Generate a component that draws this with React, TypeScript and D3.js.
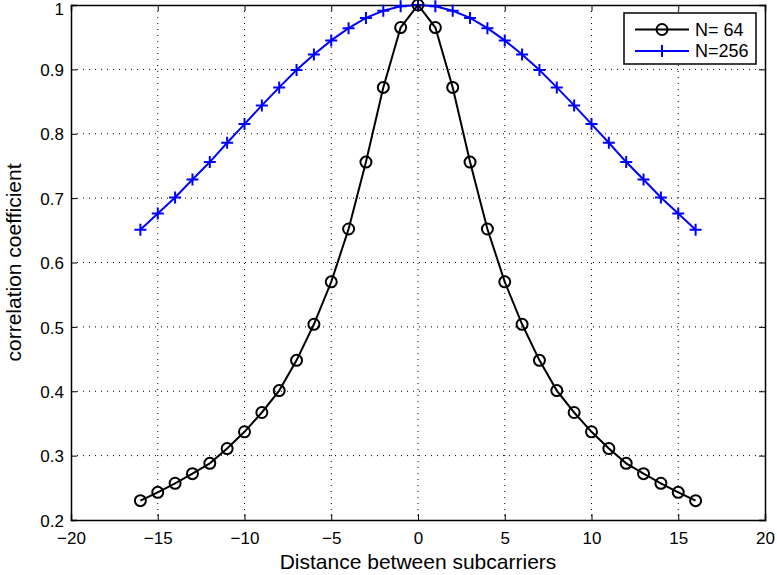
import * as d3 from 'd3';
import React, { useRef, useEffect } from 'react';

// subcarrier distance
const distances = [-16, -15, -14, -13, -12, -11, -10, -9, -8, -7, -6, -5, -4, -3, -2, -1, 0, 1, 2, 3, 4, 5, 6, 7, 8, 9, 10, 11, 12, 13, 14, 15, 16];

// N = 64
const corr64 = [0.23, 0.243, 0.257, 0.272, 0.288, 0.311, 0.337, 0.367, 0.401, 0.448, 0.504, 0.57, 0.652, 0.756, 0.872, 0.965, 1.0,
  0.965, 0.872, 0.756, 0.652, 0.57, 0.504, 0.448, 0.401, 0.367, 0.337, 0.311, 0.288, 0.272, 0.257, 0.243, 0.23];

// N = 256
const corr256 = [0.651, 0.676, 0.701, 0.729, 0.756, 0.786, 0.815, 0.844, 0.872, 0.899, 0.923, 0.945, 0.964, 0.98, 0.991, 0.998, 1.0,
  0.998, 0.991, 0.98, 0.964, 0.945, 0.923, 0.899, 0.872, 0.844, 0.815, 0.786, 0.756, 0.729, 0.701, 0.676, 0.651];

const xTicks = [-20, -15, -10, -5, 0, 5, 10, 15, 20];
const yTicks = [0.2, 0.3, 0.4, 0.5, 0.6, 0.7, 0.8, 0.9, 1];
const legendLabels = ['N= 64', 'N=256'];

function App() {
  const svgRef = useRef(null);

  useEffect(() => {
    const width = 777, height = 575;
    const margin = { top: 5, right: 12, bottom: 55, left: 71 };
    const w = width - margin.left - margin.right;
    const h = height - margin.top - margin.bottom;
    const font = 'Liberation Sans, Arial, sans-serif';

    const svg = d3.select(svgRef.current)
      .attr('width', width)
      .attr('height', height)
      .style('font-family', font);
    svg.selectAll('*').remove();

    const g = svg.append('g').attr('transform', 'translate(' + margin.left + ',' + margin.top + ')');

    const x = d3.scaleLinear().domain([-20, 20]).range([0, w]);
    const y = d3.scaleLinear().domain([0.2, 1]).range([h, 0]);

    // dotted grid
    g.append('g').selectAll('line').data(xTicks.slice(1, -1)).join('line')
      .attr('x1', d => x(d)).attr('x2', d => x(d)).attr('y1', 0).attr('y2', h)
      .attr('stroke', '#000').attr('stroke-width', 1).attr('stroke-dasharray', '1,5');
    g.append('g').selectAll('line').data(yTicks.slice(1, -1)).join('line')
      .attr('x1', 0).attr('x2', w).attr('y1', d => y(d)).attr('y2', d => y(d))
      .attr('stroke', '#000').attr('stroke-width', 1).attr('stroke-dasharray', '1,5');

    // axes, ticks inward
    const fmt = d3.format('');
    const bottom = g.append('g').attr('transform', 'translate(0,' + h + ')')
      .call(d3.axisBottom(x).tickValues(xTicks).tickSize(-6).tickPadding(12).tickFormat(d => fmt(d).replace('-', '\u2212')));
    const left = g.append('g')
      .call(d3.axisLeft(y).tickValues(yTicks).tickSize(-6).tickPadding(7).tickFormat(d => fmt(+d)));
    const top = g.append('g')
      .call(d3.axisTop(x).tickValues(xTicks).tickSize(-6).tickFormat(() => ''));
    const right = g.append('g').attr('transform', 'translate(' + w + ',0)')
      .call(d3.axisRight(y).tickValues(yTicks).tickSize(-6).tickFormat(() => ''));
    [bottom, left, top, right].forEach(a => {
      a.select('.domain').attr('stroke', '#000').attr('stroke-width', 1.5);
      a.selectAll('.tick line').attr('stroke', '#000').attr('stroke-width', 1);
      a.selectAll('text').attr('font-size', 17).attr('font-family', font).attr('fill', '#000');
    });
    left.selectAll('text').attr('dy', d => (d === 1 ? '0.72em' : '0.36em')).attr('y', d => (d === 1 ? -3 : 0));

    // lines
    const pts64 = distances.map((d, i) => [d, corr64[i]]);
    const pts256 = distances.map((d, i) => [d, corr256[i]]);
    const line = d3.line().x(d => x(d[0])).y(d => y(d[1]));

    g.append('path').datum(pts256).attr('fill', 'none').attr('stroke', '#0000ff').attr('stroke-width', 2).attr('d', line);
    g.append('g').selectAll('path').data(pts256).join('path')
      .attr('d', d => {
        const cx = x(d[0]), cy = y(d[1]);
        return 'M' + (cx - 6) + ',' + cy + 'H' + (cx + 6) + 'M' + cx + ',' + (cy - 6) + 'V' + (cy + 6);
      })
      .attr('stroke', '#0000ff').attr('stroke-width', 2);

    g.append('path').datum(pts64).attr('fill', 'none').attr('stroke', '#000').attr('stroke-width', 2).attr('d', line);
    g.append('g').selectAll('circle').data(pts64).join('circle')
      .attr('cx', d => x(d[0])).attr('cy', d => y(d[1])).attr('r', 5.5)
      .attr('fill', 'none').attr('stroke', '#000').attr('stroke-width', 2);

    // axis labels
    svg.append('text').attr('x', margin.left + w / 2).attr('y', 569).attr('text-anchor', 'middle')
      .attr('font-size', 21).text('Distance between subcarriers');
    svg.append('text').attr('transform', 'translate(21,' + (margin.top + h / 2) + ') rotate(-90)')
      .attr('text-anchor', 'middle').attr('font-size', 21).text('correlation coefficient');

    // legend
    const lg = svg.append('g');
    lg.append('rect').attr('x', 624).attr('y', 13).attr('width', 132).attr('height', 51)
      .attr('fill', '#fff').attr('stroke', '#000').attr('stroke-width', 1.5);
    const colors = ['#000', '#0000ff'];
    legendLabels.forEach((lab, i) => {
      const ly = 29.5 + i * 21.5;
      lg.append('line').attr('x1', 635).attr('x2', 689).attr('y1', ly).attr('y2', ly)
        .attr('stroke', colors[i]).attr('stroke-width', 2);
      if (i === 0) {
        lg.append('circle').attr('cx', 662).attr('cy', ly).attr('r', 5.5)
          .attr('fill', 'none').attr('stroke', '#000').attr('stroke-width', 2);
      } else {
        lg.append('path').attr('d', 'M656,' + ly + 'H668M662,' + (ly - 6) + 'V' + (ly + 6))
          .attr('stroke', colors[i]).attr('stroke-width', 2);
      }
      lg.append('text').attr('x', 695).attr('y', ly).attr('dy', '0.36em').attr('font-size', 18).text(lab);
    });
  }, []);

  return (
    <svg ref={svgRef} style={{ position: 'absolute', left: 0, top: 0 }}></svg>
  );
}

export default App;
